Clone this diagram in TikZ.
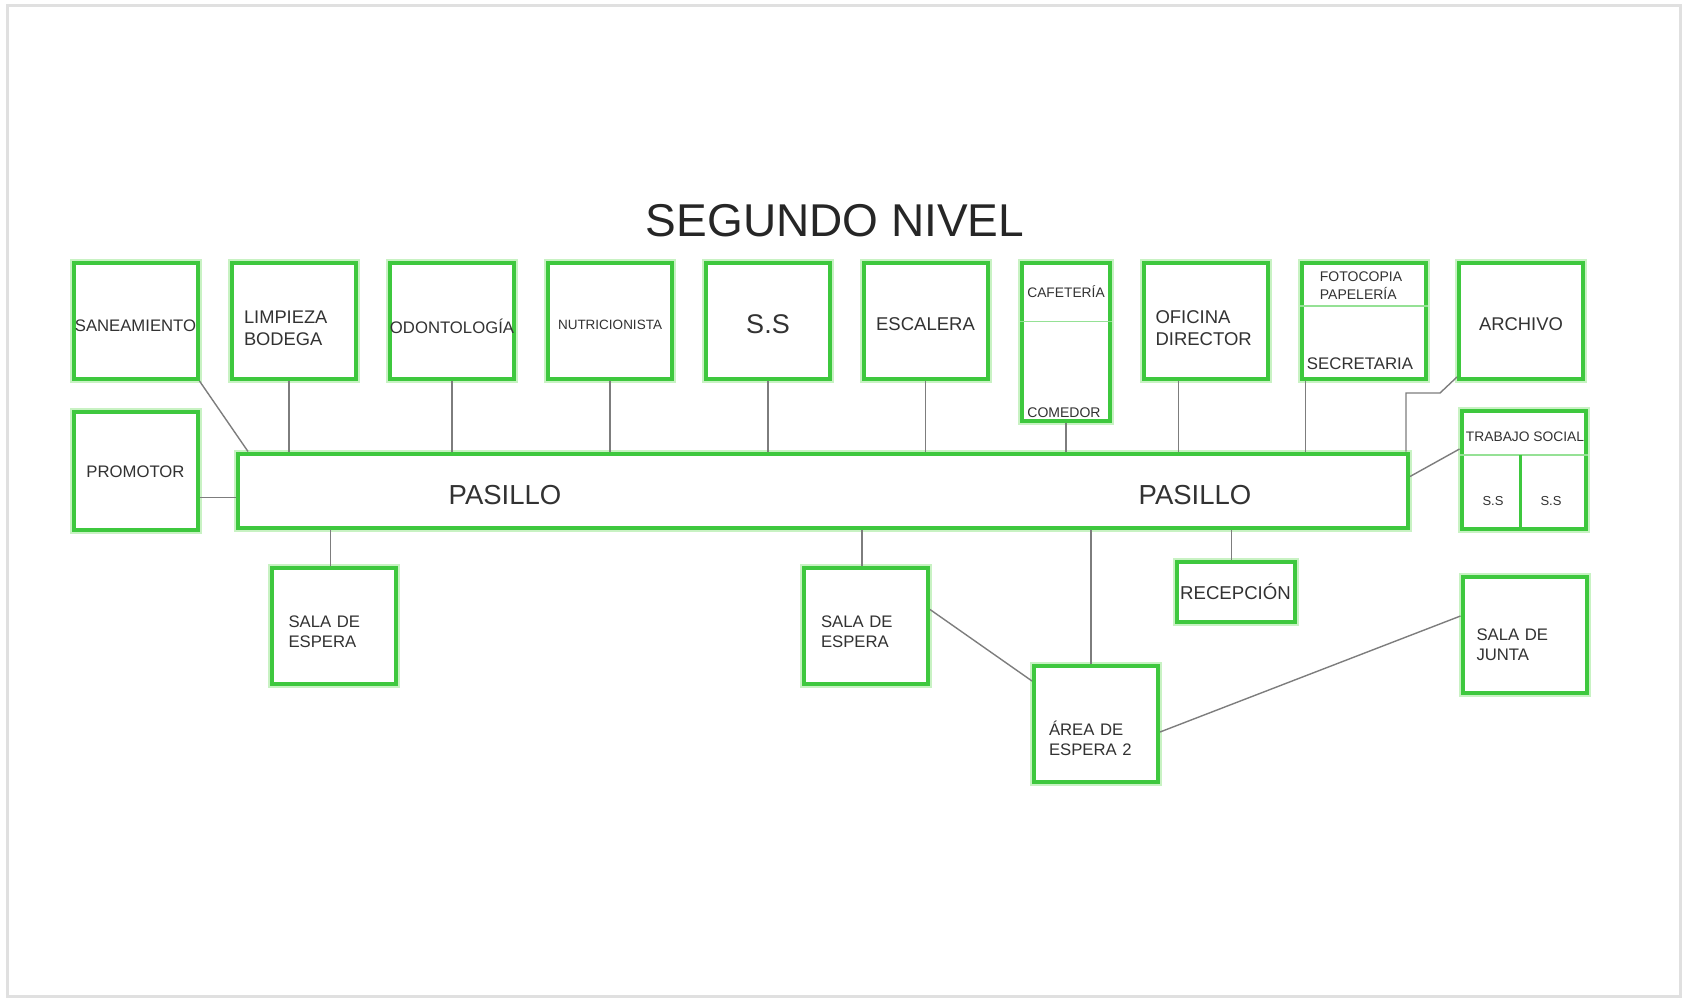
\documentclass[tikz,border=0pt]{standalone}
\usepackage{fontspec}
\setmainfont{Liberation Sans}
\definecolor{roomgreen}{RGB}{62,200,62}
\definecolor{glow}{RGB}{200,242,195}
\definecolor{ink}{RGB}{50,50,50}
\definecolor{wiregray}{RGB}{125,125,125}
\newcommand{\topgap}[1]{\rule{0pt}{#1pt}}
\tikzset{
  room/.style={draw=roomgreen,line width=4pt,fill=white,minimum width=124pt,minimum height=116pt,
    inner sep=0pt,text=ink,font=\fontsize{16.7}{20}\selectfont,preaction={draw=glow,line width=8pt}},
  lefttext/.style={align=left,text width=#1},
  wire/.style={draw=wiregray,line width=1.4pt},
  divider/.style={draw=roomgreen!55,line width=1.3pt},
  lbl/.style={text=ink,inner sep=0pt}
}
\begin{document}
\begin{tikzpicture}[x=1pt,y=-1pt]
\useasboundingbox (0,0) rectangle (1684,999);
\draw[draw=black!12,line width=3pt] (7,5) rectangle (1680,996);
\node[lbl,text=black!85,font=\fontsize{46}{55}\selectfont] (title) at (835,221) {SEGUNDO NIVEL};
% fila superior
\node[room] (sanea) at (135.5,321) {\topgap{21}SANEAMIENTO};
\node[room,lefttext=100pt,font=\fontsize{18.3}{22}\selectfont] (limp) at (294,321) {\topgap{28}LIMPIEZA\\BODEGA};
\node[room] (odon) at (452,321) {\topgap{24.5}ODONTOLOGÍA};
\node[room,font=\fontsize{13.5}{16}\selectfont] (nutri) at (610,321) {\topgap{16.7}NUTRICIONISTA};
\node[room,font=\fontsize{27}{32}\selectfont] (ss) at (768,321) {\topgap{25.7}S.S};
\node[room,font=\fontsize{18.5}{22}\selectfont] (esc) at (925.5,321) {\topgap{19.6}ESCALERA};
\node[room,minimum width=88pt,minimum height=158pt] (cafe) at (1066,341.5) {};
\node[room,lefttext=100pt,font=\fontsize{18.5}{22}\selectfont] (ofic) at (1205.5,321) {\topgap{27}OFICINA\\DIRECTOR};
\node[room] (foto) at (1363.5,321) {};
\node[room,font=\fontsize{18.4}{22}\selectfont] (arch) at (1521,321) {\topgap{19.6}ARCHIVO};
\node[room,minimum height=118pt] (prom) at (135.5,470.5) {\topgap{14}PROMOTOR};
\node[room,minimum width=1170pt,minimum height=74pt] (pasillo) at (823,490.5) {};
\node[room,minimum height=118pt] (trab) at (1523.5,470) {};
% fila inferior
\node[room,lefttext=90pt] (sala1) at (333.5,625.5) {\topgap{25}SALA DE\\ESPERA};
\node[room,lefttext=90pt] (sala2) at (866,625.5) {\topgap{25}SALA DE\\ESPERA};
\node[room,lefttext=94pt] (area) at (1096,724) {\topgap{43}ÁREA DE\\ESPERA 2};
\node[room,minimum width=118pt,minimum height=60pt,font=\fontsize{18.6}{22}\selectfont] (recep) at (1235.5,591.5) {RECEPCIÓN};
\node[room,lefttext=96pt] (junta) at (1524.5,635) {\topgap{31}SALA DE\\JUNTA};
% textos de los cuartos divididos
\node[lbl,font=\fontsize{27.5}{32}\selectfont] (pas1) at (505,495) {PASILLO};
\node[lbl,font=\fontsize{27.5}{32}\selectfont] (pas2) at (1195,495) {PASILLO};
\node[lbl,font=\fontsize{13.8}{16}\selectfont] (cafe1) at (1066,292) {CAFETERÍA};
\node[lbl,font=\fontsize{14}{16}\selectfont] (cafe2) at (1064,413) {COMEDOR};
\node[lbl,align=left,font=\fontsize{14}{18}\selectfont] (foto1) at (1361,286) {FOTOCOPIA\\PAPELERÍA};
\node[lbl,font=\fontsize{16.8}{20}\selectfont] (foto2) at (1360,364) {SECRETARIA};
\node[lbl,font=\fontsize{13.8}{16}\selectfont] (trab1) at (1525,437) {TRABAJO SOCIAL};
\node[lbl,font=\fontsize{13}{16}\selectfont] (trab2) at (1493,501) {S.S};
\node[lbl,font=\fontsize{13}{16}\selectfont] (trab3) at (1551,501) {S.S};
\draw[divider] ([yshift=-61pt]cafe.north west) -- ([yshift=-61pt]cafe.north east);
\draw[divider] ([yshift=-45pt]foto.north west) -- ([yshift=-45pt]foto.north east);
\draw[divider] ([yshift=-46pt]trab.north west) -- ([yshift=-46pt]trab.north east);
\draw[draw=roomgreen,line width=3pt] ([yshift=-46pt,xshift=-3pt]trab.north) -- ([xshift=-3pt]trab.south);
% conexiones
\draw[wire] (sanea.south east) -- ([xshift=12pt]pasillo.north west);
\draw[wire] ([xshift=-5pt]limp.south) -- ([xshift=-5pt]limp.south |- pasillo.north);
\foreach \r in {odon,nutri,ss,esc,cafe}
  \draw[wire] (\r.south) -- (\r.south |- pasillo.north);
\draw[wire] ([xshift=-27pt]ofic.south) -- ([xshift=-27pt]ofic.south |- pasillo.north);
\draw[wire] ([xshift=6pt]foto.south west) -- ([xshift=6pt]foto.south west |- pasillo.north);
\draw[wire] ([yshift=4pt]arch.south west) -- ++(-17,16) -| ([xshift=-4pt]pasillo.north east);
\draw[wire] ([yshift=14pt]pasillo.east) -- ([yshift=21pt]trab.west);
\draw[wire] ([yshift=-27pt]prom.east) -- ([yshift=-27pt]prom.east -| pasillo.west);
\draw[wire] ([xshift=-3pt]sala1.north) -- ([xshift=-3pt]sala1.north |- pasillo.south);
\draw[wire] ([xshift=-4pt]sala2.north) -- ([xshift=-4pt]sala2.north |- pasillo.south);
\draw[wire] ([xshift=-5pt]area.north) -- ([xshift=-5pt]area.north |- pasillo.south);
\draw[wire] ([xshift=-4pt]recep.north) -- ([xshift=-4pt]recep.north |- pasillo.south);
\draw[wire] ([yshift=16pt]sala2.east) -- ([yshift=-17pt]area.north west);
\draw[wire] ([yshift=-8pt]area.east) -- ([yshift=19pt]junta.west);
\end{tikzpicture}
\end{document}
